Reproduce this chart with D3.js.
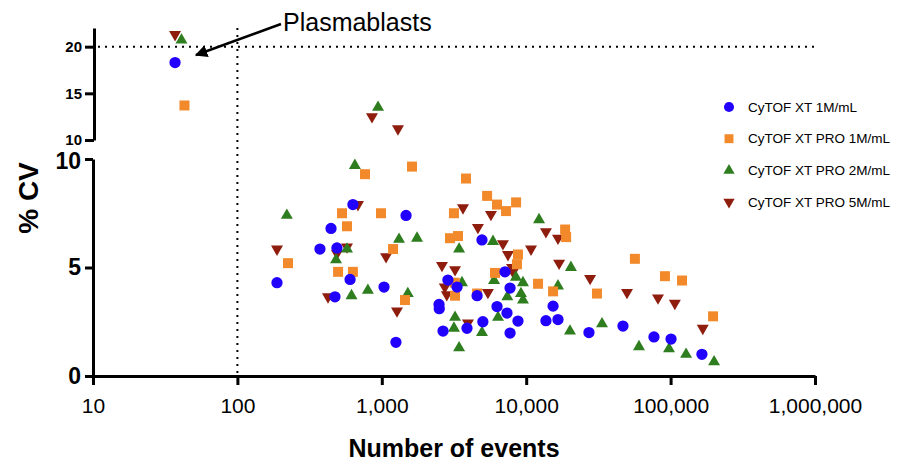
<!DOCTYPE html>
<html>
<head>
<meta charset="utf-8">
<script src="https://cdn.jsdelivr.net/npm/d3@7"></script>
<style>
  body { margin: 0; background: #fff; }
  svg text { font-family: "Liberation Sans", Arial, sans-serif; }
</style>
</head>
<body>
<div id="container"></div>
<script>
/* DATA: [events, %CV] */
const xt1M = [
  [37, 18.3], [188, 4.3], [373, 5.85], [445, 6.8], [474, 3.65], [489, 5.9],
  [603, 4.45], [631, 7.9], [1036, 4.1], [1253, 1.55], [1472, 7.4], [2490, 3.3],
  [2500, 3.1], [2655, 2.07], [2870, 4.42], [3320, 4.1], [3890, 2.2], [4570, 3.7],
  [4940, 6.27], [5010, 2.5], [6280, 3.2], [7130, 4.8], [7360, 2.9], [7730, 4.05],
  [7730, 1.98], [8770, 2.53], [13700, 2.55], [15350, 3.22], [16600, 2.6],
  [27200, 2.0], [46800, 2.3], [76700, 1.8], [100700, 1.7], [164800, 1.0]
];
const xtPro1M = [
  [43, 13.7], [224, 5.2], [498, 4.8], [530, 7.5], [574, 6.9], [631, 4.8],
  [765, 9.3], [987, 7.5], [1197, 5.85], [1447, 3.5], [1619, 9.65], [2966, 6.35],
  [3160, 7.5], [3215, 3.7], [3200, 4.3], [3370, 6.45], [3830, 9.1], [4570, 3.8],
  [5360, 8.3], [6080, 4.75], [6280, 7.9], [7250, 7.6], [8510, 8.0], [8630, 5.15],
  [8770, 5.6], [12080, 4.25], [15350, 3.9], [18600, 6.75], [18900, 6.4],
  [30900, 3.8], [56600, 5.4], [91400, 4.6], [120000, 4.4], [196800, 2.75]
];
const xtPro2M = [
  [41, 20.7], [942, 13.5], [220, 7.4], [482, 5.35], [574, 5.85], [617, 3.7],
  [651, 9.7], [801, 3.95], [1316, 6.3], [1514, 3.8], [1754, 6.35], [3160, 2.2],
  [3215, 2.7], [3430, 5.85], [3430, 1.3], [3590, 4.3], [4940, 2.0], [5890, 6.2],
  [5990, 4.4], [6380, 2.7], [7400, 3.65], [8490, 4.55], [9200, 3.8], [9500, 3.5],
  [9500, 4.3], [12270, 7.2], [16600, 4.15], [20100, 2.07], [20400, 5.0],
  [33500, 2.4], [60400, 1.35], [97500, 1.25], [128000, 1.0], [200000, 0.65]
];
const xtPro5M = [
  [37, 21.3], [855, 12.5], [1294, 11.2], [188, 5.85], [424, 3.65], [489, 5.65],
  [574, 5.95], [684, 7.9], [1070, 5.5], [1274, 3.0], [2610, 5.1], [2730, 4.1],
  [2820, 3.75], [3215, 4.9], [3650, 7.75], [3950, 2.45], [4630, 6.85], [5430, 3.85],
  [5700, 7.45], [6900, 6.1], [7480, 5.6], [7980, 5.0], [8100, 4.8], [10800, 5.85],
  [13700, 6.65], [16600, 6.35], [16900, 5.2], [27700, 4.5], [49900, 3.85],
  [81800, 3.6], [107000, 3.35], [167000, 2.2]
];

const seriesNames = ["CyTOF XT 1M/mL", "CyTOF XT PRO 1M/mL", "CyTOF XT PRO 2M/mL", "CyTOF XT PRO 5M/mL"];
const xTicks = [10, 100, 1000, 10000, 100000, 1000000];
const yTicksLow = [0, 5, 10];
const yTicksHigh = [10, 15, 20];
const plasmaCV = 20;
const plasmaEvents = 100;

/* CONSTANTS */
const width = 910, height = 463;
const colors = ["#2200ff", "#f28a2c", "#2e7d1e", "#8f1d0e"];
const shapes = [d3.symbolCircle, d3.symbolSquare, d3.symbolTriangle, d3.symbolTriangle];
const sizes = [100, 100, 62, 62];
const rotations = [0, 0, 0, 180];

const svg = d3.select("#container")
  .append("svg")
  .attr("width", width)
  .attr("height", height);

/* SCALES */
const xScale = d3.scaleLog()
  .domain([10, 1000000])
  .range([93, 815]);

const yLow = d3.scaleLinear()
  .domain([0, 10])
  .range([376, 159]);

const yHigh = d3.scaleLinear()
  .domain([10, 22])
  .range([140, 28]);

const yOf = v => v > 10 ? yHigh(v) : yLow(v);

/* REFERENCE LINES */
svg.append("line")
  .attr("x1", xScale(plasmaEvents)).attr("x2", xScale(plasmaEvents))
  .attr("y1", yHigh(22)).attr("y2", yLow(0))
  .attr("stroke", "#000").attr("stroke-width", 2)
  .attr("stroke-dasharray", "2,5");

svg.append("line")
  .attr("x1", 98).attr("x2", xScale(1000000))
  .attr("y1", yHigh(plasmaCV)).attr("y2", yHigh(plasmaCV))
  .attr("stroke", "#000").attr("stroke-width", 2)
  .attr("stroke-dasharray", "2,5");

/* AXES */
const xAxis = svg.append("g")
  .attr("transform", `translate(0,${yLow(0)})`)
  .call(d3.axisBottom(xScale).tickValues(xTicks).tickFormat(d3.format(",")).tickSize(9).tickSizeOuter(0).tickPadding(13));

const yAxisLow = svg.append("g")
  .attr("transform", `translate(${xScale(10)},0)`)
  .call(d3.axisLeft(yLow).tickValues(yTicksLow).tickSize(8).tickSizeOuter(0).tickPadding(4));

const yAxisHigh = svg.append("g")
  .attr("transform", `translate(${xScale(10) + 1},0)`)
  .call(d3.axisLeft(yHigh).tickValues(yTicksHigh).tickSize(9).tickSizeOuter(0).tickPadding(3));

svg.selectAll(".domain, .tick line")
  .attr("stroke", "#000")
  .attr("stroke-width", 3);

xAxis.selectAll("text")
  .attr("font-size", 21)
  .attr("fill", "#000");

yAxisLow.selectAll("text")
  .attr("font-size", 23)
  .attr("font-weight", "bold")
  .attr("fill", "#000");

// lower "10" sits a touch low so it clears the upper panel's "10"
yAxisLow.selectAll(".tick text").filter(d => d === 10).attr("dy", "0.42em");

yAxisHigh.selectAll("text")
  .attr("font-size", 15)
  .attr("font-weight", "bold")
  .attr("fill", "#000");

/* AXIS LABELS */
svg.append("text")
  .attr("x", (xScale(10) + xScale(1000000)) / 2)
  .attr("y", 457)
  .attr("text-anchor", "middle")
  .attr("font-size", 25)
  .attr("font-weight", "bold")
  .text("Number of events");

svg.append("text")
  .attr("transform", "translate(38,198) rotate(-90)")
  .attr("text-anchor", "middle")
  .attr("font-size", 28)
  .attr("font-weight", "bold")
  .text("% CV");

/* POINTS (drawn last series first so blue sits on top) */
const allSeries = [xt1M, xtPro1M, xtPro2M, xtPro5M];
[3, 2, 1, 0].forEach(i => {
  svg.append("g")
    .selectAll("path")
    .data(allSeries[i])
    .join("path")
    .attr("d", d3.symbol().type(shapes[i]).size(sizes[i]))
    .attr("transform", d => `translate(${xScale(d[0])},${yOf(d[1])}) rotate(${rotations[i]})`)
    .attr("fill", colors[i]);
});

/* ANNOTATION */
svg.append("defs").append("marker")
  .attr("id", "arrow")
  .attr("viewBox", "0 0 10 10")
  .attr("refX", 9).attr("refY", 5)
  .attr("markerWidth", 5).attr("markerHeight", 5)
  .attr("orient", "auto")
  .append("path")
  .attr("d", "M0,0 L10,5 L0,10 Z")
  .attr("fill", "#000");

svg.append("line")
  .attr("x1", 281).attr("y1", 24)
  .attr("x2", 196).attr("y2", 55)
  .attr("stroke", "#000").attr("stroke-width", 2.5)
  .attr("marker-end", "url(#arrow)");

svg.append("text")
  .attr("x", 283)
  .attr("y", 31)
  .attr("font-size", 25)
  .text("Plasmablasts");

/* LEGEND */
const legend = svg.append("g").attr("transform", "translate(729,107)");
seriesNames.forEach((name, i) => {
  const row = legend.append("g").attr("transform", `translate(0,${i * 31.7})`);
  row.append("path")
    .attr("d", d3.symbol().type(shapes[i]).size(i < 2 ? 80 : 55))
    .attr("transform", `rotate(${rotations[i]})`)
    .attr("fill", colors[i]);
  row.append("text")
    .attr("x", 19)
    .attr("dy", "0.35em")
    .attr("font-size", 13.5)
    .text(name);
});
</script>
</body>
</html>
